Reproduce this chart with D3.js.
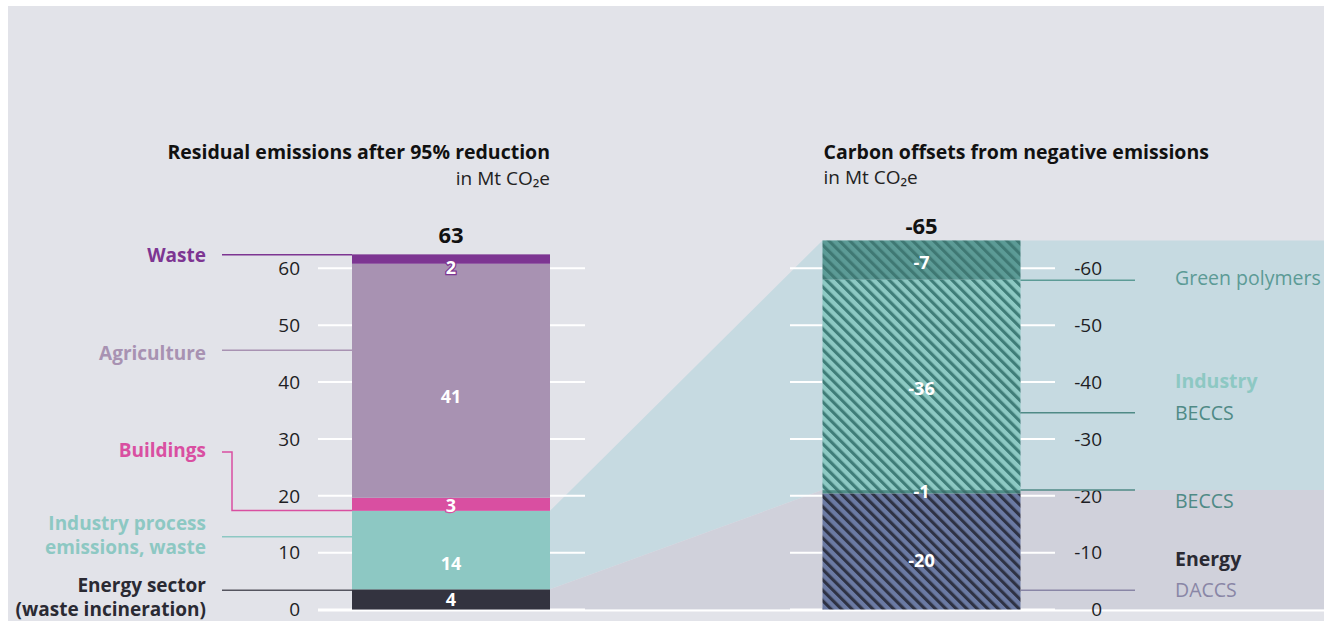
<!DOCTYPE html>
<html>
<head>
<meta charset="utf-8">
<script src="https://cdn.jsdelivr.net/npm/d3@7"></script>
<style>
  html, body { margin: 0; padding: 0; background: #ffffff; }
  svg { display: block; font-family: "Open Sans", "Noto Sans", sans-serif; }
</style>
</head>
<body>
<svg id="chart" width="1324" height="621"></svg>
<script>
// residual emissions (Mt CO2e), bottom to top
const residualSectors = ['Energy sector', 'Industry process emissions, waste', 'Buildings', 'Agriculture', 'Waste'];
const residualValues = [3.55, 13.8, 2.3, 41.15, 1.65];
const residualLabels = ['4', '14', '3', '41', '2'];
const residualTotal = '63';

// carbon offsets (Mt CO2e), bottom to top
const offsetSectors = ['DACCS', 'BECCS (energy)', 'BECCS (industry)', 'Green polymers'];
const offsetValues = [20.4, 0.6, 37.0, 6.9];
const offsetLabels = ['-20', '-1', '-36', '-7'];
const offsetTotal = '-65';

const leftTicks = [0, 10, 20, 30, 40, 50, 60];
const rightTicks = [0, -10, -20, -30, -40, -50, -60];

const svg = d3.select('#chart');
const W = 1324, H = 621;

const y = d3.scaleLinear().domain([0, 60]).range([609.5, 268.3]);
const yR = d3.scaleLinear().domain([0, -60]).range([609.5, 268.3]);
const x = d3.scalePoint().domain(['residual', 'offsets']).range([451, 921.5]);
const barW = 198;
const xL0 = x('residual') - barW / 2, xL1 = x('residual') + barW / 2;
const xR0 = x('offsets') - barW / 2, xR1 = x('offsets') + barW / 2;

function stack(values) {
  let acc = 0;
  return values.map((v) => { const s = { y0: acc, y1: acc + v, v }; acc += v; return s; });
}
const resStack = stack(residualValues);
const offStack = stack(offsetValues);

// panel background
svg.append('rect').attr('x', 8).attr('y', 6).attr('width', W - 8).attr('height', H - 6).attr('fill', '#e2e3e9');

// hatch patterns
const defs = svg.append('defs');
function hatch(id, bg, stripe) {
  const p = defs.append('pattern')
    .attr('id', id)
    .attr('patternUnits', 'userSpaceOnUse')
    .attr('width', 7.4).attr('height', 7.4)
    .attr('patternTransform', 'rotate(-45)');
  p.append('rect').attr('width', 7.4).attr('height', 7.4).attr('fill', bg);
  p.append('rect').attr('width', 3.1).attr('height', 7.4).attr('fill', stripe);
}
hatch('h-daccs', '#6b7aa3', '#2e3244');
hatch('h-beccs-e', '#4f8e88', '#3b726d');
hatch('h-beccs-i', '#8dc9c3', '#3f7d78');
hatch('h-poly', '#5c9b96', '#3f7873');
const offsetFills = ['url(#h-daccs)', 'url(#h-beccs-e)', 'url(#h-beccs-i)', 'url(#h-poly)'];
const residualColors = ['#33333f', '#8dc8c3', '#d94fa1', '#a892b2', '#7d3592'];

// connecting areas
const indTop = resStack[1].y1, indBot = resStack[1].y0;
const offTop = offStack[3].y1, offMid = offStack[1].y1;
svg.append('path')
  .attr('fill', '#c6dae1')
  .attr('d', d3.line()([
    [xL1, y(indTop)], [xR0, yR(-offTop)], [W, yR(-offTop)],
    [W, yR(-offMid)], [xR0, yR(-offMid)], [xL1, y(indBot)]
  ]) + 'Z');
svg.append('path')
  .attr('fill', '#d0d1db')
  .attr('d', d3.line()([
    [xL1, y(indBot)], [xR0, yR(-offMid)], [W, yR(-offMid)], [W, y(0)], [xL1, y(0)]
  ]) + 'Z');

// grid ticks
const grid = svg.append('g').attr('stroke', '#ffffff').attr('stroke-width', 2);
leftTicks.forEach((t) => {
  grid.append('line').attr('x1', 318).attr('x2', xL0).attr('y1', y(t)).attr('y2', y(t));
  grid.append('line').attr('x1', xL1).attr('x2', 585).attr('y1', y(t)).attr('y2', y(t));
});
rightTicks.forEach((t) => {
  grid.append('line').attr('x1', 790).attr('x2', xR0).attr('y1', yR(t)).attr('y2', yR(t));
  grid.append('line').attr('x1', xR1).attr('x2', 1055).attr('y1', yR(t)).attr('y2', yR(t));
});
grid.append('line').attr('x1', 318).attr('x2', W).attr('y1', y(0) + 1).attr('y2', y(0) + 1);

svg.append('g').selectAll('text').data(leftTicks).join('text')
  .attr('x', 300).attr('y', (d) => y(d)).attr('dy', '0.36em')
  .attr('text-anchor', 'end').attr('font-size', 19).attr('fill', '#1e1e24')
  .text((d) => d);
svg.append('g').selectAll('text').data(rightTicks).join('text')
  .attr('x', 1102).attr('y', (d) => yR(d)).attr('dy', '0.36em')
  .attr('text-anchor', 'end').attr('font-size', 19).attr('fill', '#1e1e24')
  .text((d) => d);

// bars
svg.append('g').selectAll('rect').data(resStack).join('rect')
  .attr('x', xL0).attr('width', barW)
  .attr('y', (d) => y(d.y1)).attr('height', (d) => y(d.y0) - y(d.y1))
  .attr('fill', (d, i) => residualColors[i]);
svg.append('g').selectAll('rect').data(offStack).join('rect')
  .attr('x', xR0).attr('width', barW)
  .attr('y', (d) => yR(-d.y1)).attr('height', (d) => yR(-d.y0) - yR(-d.y1))
  .attr('fill', (d, i) => offsetFills[i]);

// value labels inside bars
const resLabelAt = [1.7, 8.0, 18.3, 37.4, 60.1];
const offLabelAt = [8.7, 20.8, 38.8, 61.1];
svg.append('g').selectAll('text').data(residualLabels).join('text')
  .attr('x', x('residual')).attr('y', (d, i) => y(resLabelAt[i])).attr('dy', '0.36em')
  .attr('text-anchor', 'middle').attr('font-size', 18).attr('font-weight', 700)
  .attr('fill', '#ffffff').attr('stroke', (d, i) => residualColors[i]).attr('stroke-width', 2.5)
  .attr('paint-order', 'stroke')
  .text((d) => d);
svg.append('g').selectAll('text').data(offsetLabels).join('text')
  .attr('x', x('offsets')).attr('y', (d, i) => yR(-offLabelAt[i])).attr('dy', '0.36em')
  .attr('text-anchor', 'middle').attr('font-size', 18).attr('font-weight', 700)
  .attr('fill', '#ffffff')
  .text((d) => d);

// totals
svg.append('text').attr('x', x('residual')).attr('y', 235).attr('dy', '0.36em')
  .attr('text-anchor', 'middle').attr('font-size', 22).attr('font-weight', 700).attr('fill', '#111')
  .text(residualTotal);
svg.append('text').attr('x', x('offsets')).attr('y', 226).attr('dy', '0.36em')
  .attr('text-anchor', 'middle').attr('font-size', 22).attr('font-weight', 700).attr('fill', '#111')
  .text(offsetTotal);

// titles
svg.append('text').attr('x', xL1).attr('y', 152).attr('dy', '0.36em').attr('text-anchor', 'end')
  .attr('font-size', 19.5).attr('font-weight', 700).attr('fill', '#111')
  .text('Residual emissions after 95% reduction');
svg.append('text').attr('x', xL1).attr('y', 178).attr('dy', '0.36em').attr('text-anchor', 'end')
  .attr('font-size', 19).attr('fill', '#222')
  .text('in Mt CO₂e');
svg.append('text').attr('x', xR0 + 1).attr('y', 152).attr('dy', '0.36em')
  .attr('font-size', 19.5).attr('font-weight', 700).attr('fill', '#111')
  .text('Carbon offsets from negative emissions');
svg.append('text').attr('x', xR0 + 1).attr('y', 177).attr('dy', '0.36em')
  .attr('font-size', 19).attr('fill', '#222')
  .text('in Mt CO₂e');

// left category labels with leader lines
const leftLegend = [
  { lines: ['Waste'], color: '#7d3592', textY: 255, lineAt: 62.4 },
  { lines: ['Agriculture'], color: '#a892b2', textY: 353, lineAt: 45.6 },
  { lines: ['Buildings'], color: '#d94fa1', textY: 450, lineAt: 17.4, elbow: true },
  { lines: ['Industry process', 'emissions, waste'], color: '#8dc8c3', textY: 535, lineAt: 12.8 },
  { lines: ['Energy sector', '(waste incineration)'], color: '#2a2a33', lineColor: '#55555f', textY: 597, lineAt: 3.4 }
];
leftLegend.forEach((d) => {
  const t = svg.append('text').attr('x', 206).attr('text-anchor', 'end')
    .attr('font-size', 19).attr('font-weight', 700).attr('fill', d.color);
  d.lines.forEach((ln, i) => {
    t.append('tspan').attr('x', 206)
      .attr('y', d.textY + (i - (d.lines.length - 1) / 2) * 24).attr('dy', '0.36em').text(ln);
  });
  const ly = y(d.lineAt);
  const pts = d.elbow
    ? [[222, d.textY + 2], [232, d.textY + 2], [232, ly], [xL0, ly]]
    : [[222, ly], [xL0, ly]];
  svg.append('path').attr('d', d3.line()(pts)).attr('fill', 'none')
    .attr('stroke', d.lineColor || d.color).attr('stroke-width', 1.5);
});

// right category labels with leader lines
const rightLegend = [
  { text: 'Green polymers', color: '#5c9b96', textY: 278, lineAt: 57.9, lineColor: '#5c9b96' },
  { text: 'Industry', color: '#8dc8c3', textY: 381, bold: true },
  { text: 'BECCS', color: '#4f8a86', textY: 413, lineAt: 34.6, lineColor: '#4f8a86' },
  { text: 'BECCS', color: '#4f8a86', textY: 501, lineAt: 21.0, lineColor: '#4f8a86' },
  { text: 'Energy', color: '#2a2a33', textY: 559, bold: true },
  { text: 'DACCS', color: '#8986a6', textY: 590, lineAt: 3.4, lineColor: '#8986a6' }
];
rightLegend.forEach((d) => {
  svg.append('text').attr('x', 1175).attr('y', d.textY).attr('dy', '0.36em')
    .attr('font-size', 19.5).attr('font-weight', d.bold ? 700 : 400).attr('fill', d.color)
    .text(d.text);
  if (d.lineAt !== undefined) {
    svg.append('line').attr('x1', xR1).attr('x2', 1135)
      .attr('y1', yR(-d.lineAt)).attr('y2', yR(-d.lineAt))
      .attr('stroke', d.lineColor).attr('stroke-width', 1.5);
  }
});
</script>
</body>
</html>
